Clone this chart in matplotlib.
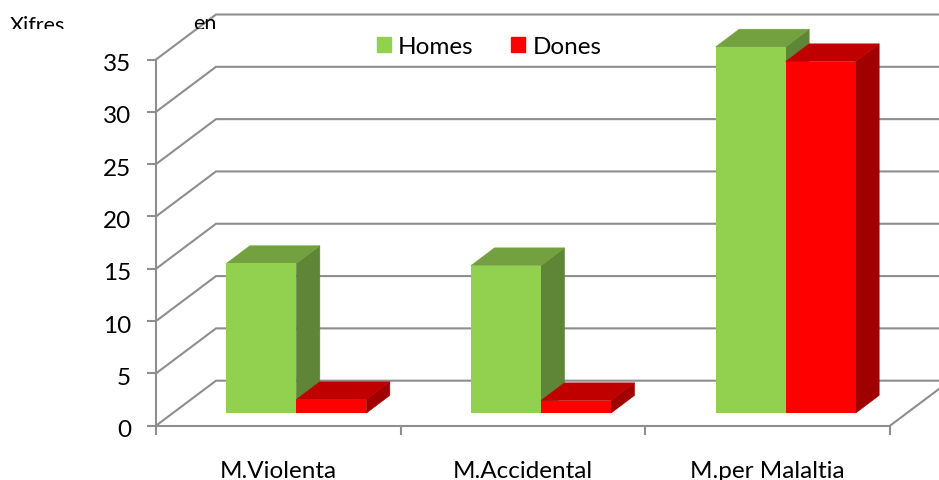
import matplotlib
matplotlib.use('Agg')
import matplotlib.pyplot as plt
from matplotlib.patches import Patch, Rectangle
from matplotlib.transforms import Affine2D

plt.rcParams['font.family'] = ['Lato', 'DejaVu Sans']

categories = ['M.Violenta', 'M.Accidental', 'M.per Malaltia']
homes = [14.3, 14.1, 35.0]
dones = [1.3, 1.2, 33.6]
y_ticks = [0, 5, 10, 15, 20, 25, 30, 35]

GRAY = '#8e8e8e'
W, H = 939, 481

fig = plt.figure(figsize=(W / 100, H / 100), dpi=100)
# eix frontal, en pixels de la imatge original
left, right, top, bottom = 156, 890, 60.5, 426.7
ax = fig.add_axes([left / W, 1 - bottom / H, (right - left) / W, (bottom - top) / H])
ax.set_xlim(0, 3)
ax.set_ylim(0, 35)
ux = (right - left) / 3       # px per categoria
uy = (bottom - top) / 35      # px per unitat

# parets: paret del fons desplaçada 60 px a la dreta i 45 amunt
wall_x, wall_y = 60 / ux, 45 / uy
for v in y_ticks:
    ax.plot([0, wall_x, 3 + wall_x], [v, v + wall_y, v + wall_y], color=GRAY, lw=1.5,
            clip_on=False, zorder=1, solid_joinstyle='miter')
ax.plot([3, 3 + wall_x], [0, wall_y], color=GRAY, lw=1.5, clip_on=False, zorder=1)

# les barres s'assenten a mig fons
tr = ax.transData + Affine2D().translate(18, 12.6)
bar_w = 70 / ux
dx, dy = 23.5 / ux, 17.7 / uy


def bar3d(xc, val, front, top_c, side):
    x0, x1 = xc, xc + bar_w
    ax.fill([x1, x1 + dx, x1 + dx, x1], [0, dy, val + dy, val], fc=side, ec=side, lw=0.4, transform=tr,
            clip_on=False, zorder=2)
    ax.fill([x0, x0 + dx, x1 + dx, x1], [val, val + dy, val + dy, val], fc=top_c, ec=top_c, lw=0.4, transform=tr,
            clip_on=False, zorder=2)
    ax.bar(x0, val, bar_w, align='edge', color=front, lw=0, transform=tr, clip_on=False, zorder=2)


for i in range(len(categories)):
    bar3d(i + 0.5 - bar_w, homes[i], '#92d050', '#73a13f', '#5f8536')
    bar3d(i + 0.5, dones[i], '#ff0000', '#c00000', '#a00000')

ax.set_xticks([0, 1, 2, 3])
ax.set_xticklabels([])
ax.set_xticks([0.5, 1.5, 2.5], categories, minor=True)
ax.tick_params(axis='x', which='minor', length=0, labelsize=17.5, pad=25)
ax.tick_params(axis='x', which='major', length=6.5, width=1.5, color=GRAY)
ax.set_yticks(y_ticks)
ax.tick_params(axis='y', length=6.5, width=1.5, color=GRAY, labelsize=17.5, pad=11.5)
# els numeros queden una mica per sota de les marques
for lab in ax.get_yticklabels():
    lab.set_transform(lab.get_transform() + Affine2D().translate(0, -2))
for s in ['top', 'right']:
    ax.spines[s].set_visible(False)
for s in ['left', 'bottom']:
    ax.spines[s].set_color(GRAY)
    ax.spines[s].set_linewidth(1.5)

handles = [Patch(color='#92d050', label='Homes'), Patch(color='#ff0000', label='Dones')]
ax.legend(handles=handles, ncol=2, frameon=False, fontsize=17.5, loc='center',
          bbox_to_anchor=(489 / W, 1 - 48 / H), bbox_transform=fig.transFigure,
          handlelength=0.58, handleheight=0.58, handletextpad=0.29, columnspacing=1.56)

# títol tallat per dalt del gràfic
clip = Rectangle((0, H - 30), W, 30, transform=None)
for txt, px, py in [('Xifres', 10, 32.5), ('en', 193, 30.5)]:
    t = fig.text(px / W, 1 - py / H, txt, fontsize=15.5, color='black', va='baseline', ha='left')
    t.set_clip_path(clip)
    t.set_clip_on(True)

fig.savefig('out.png', dpi=100)
